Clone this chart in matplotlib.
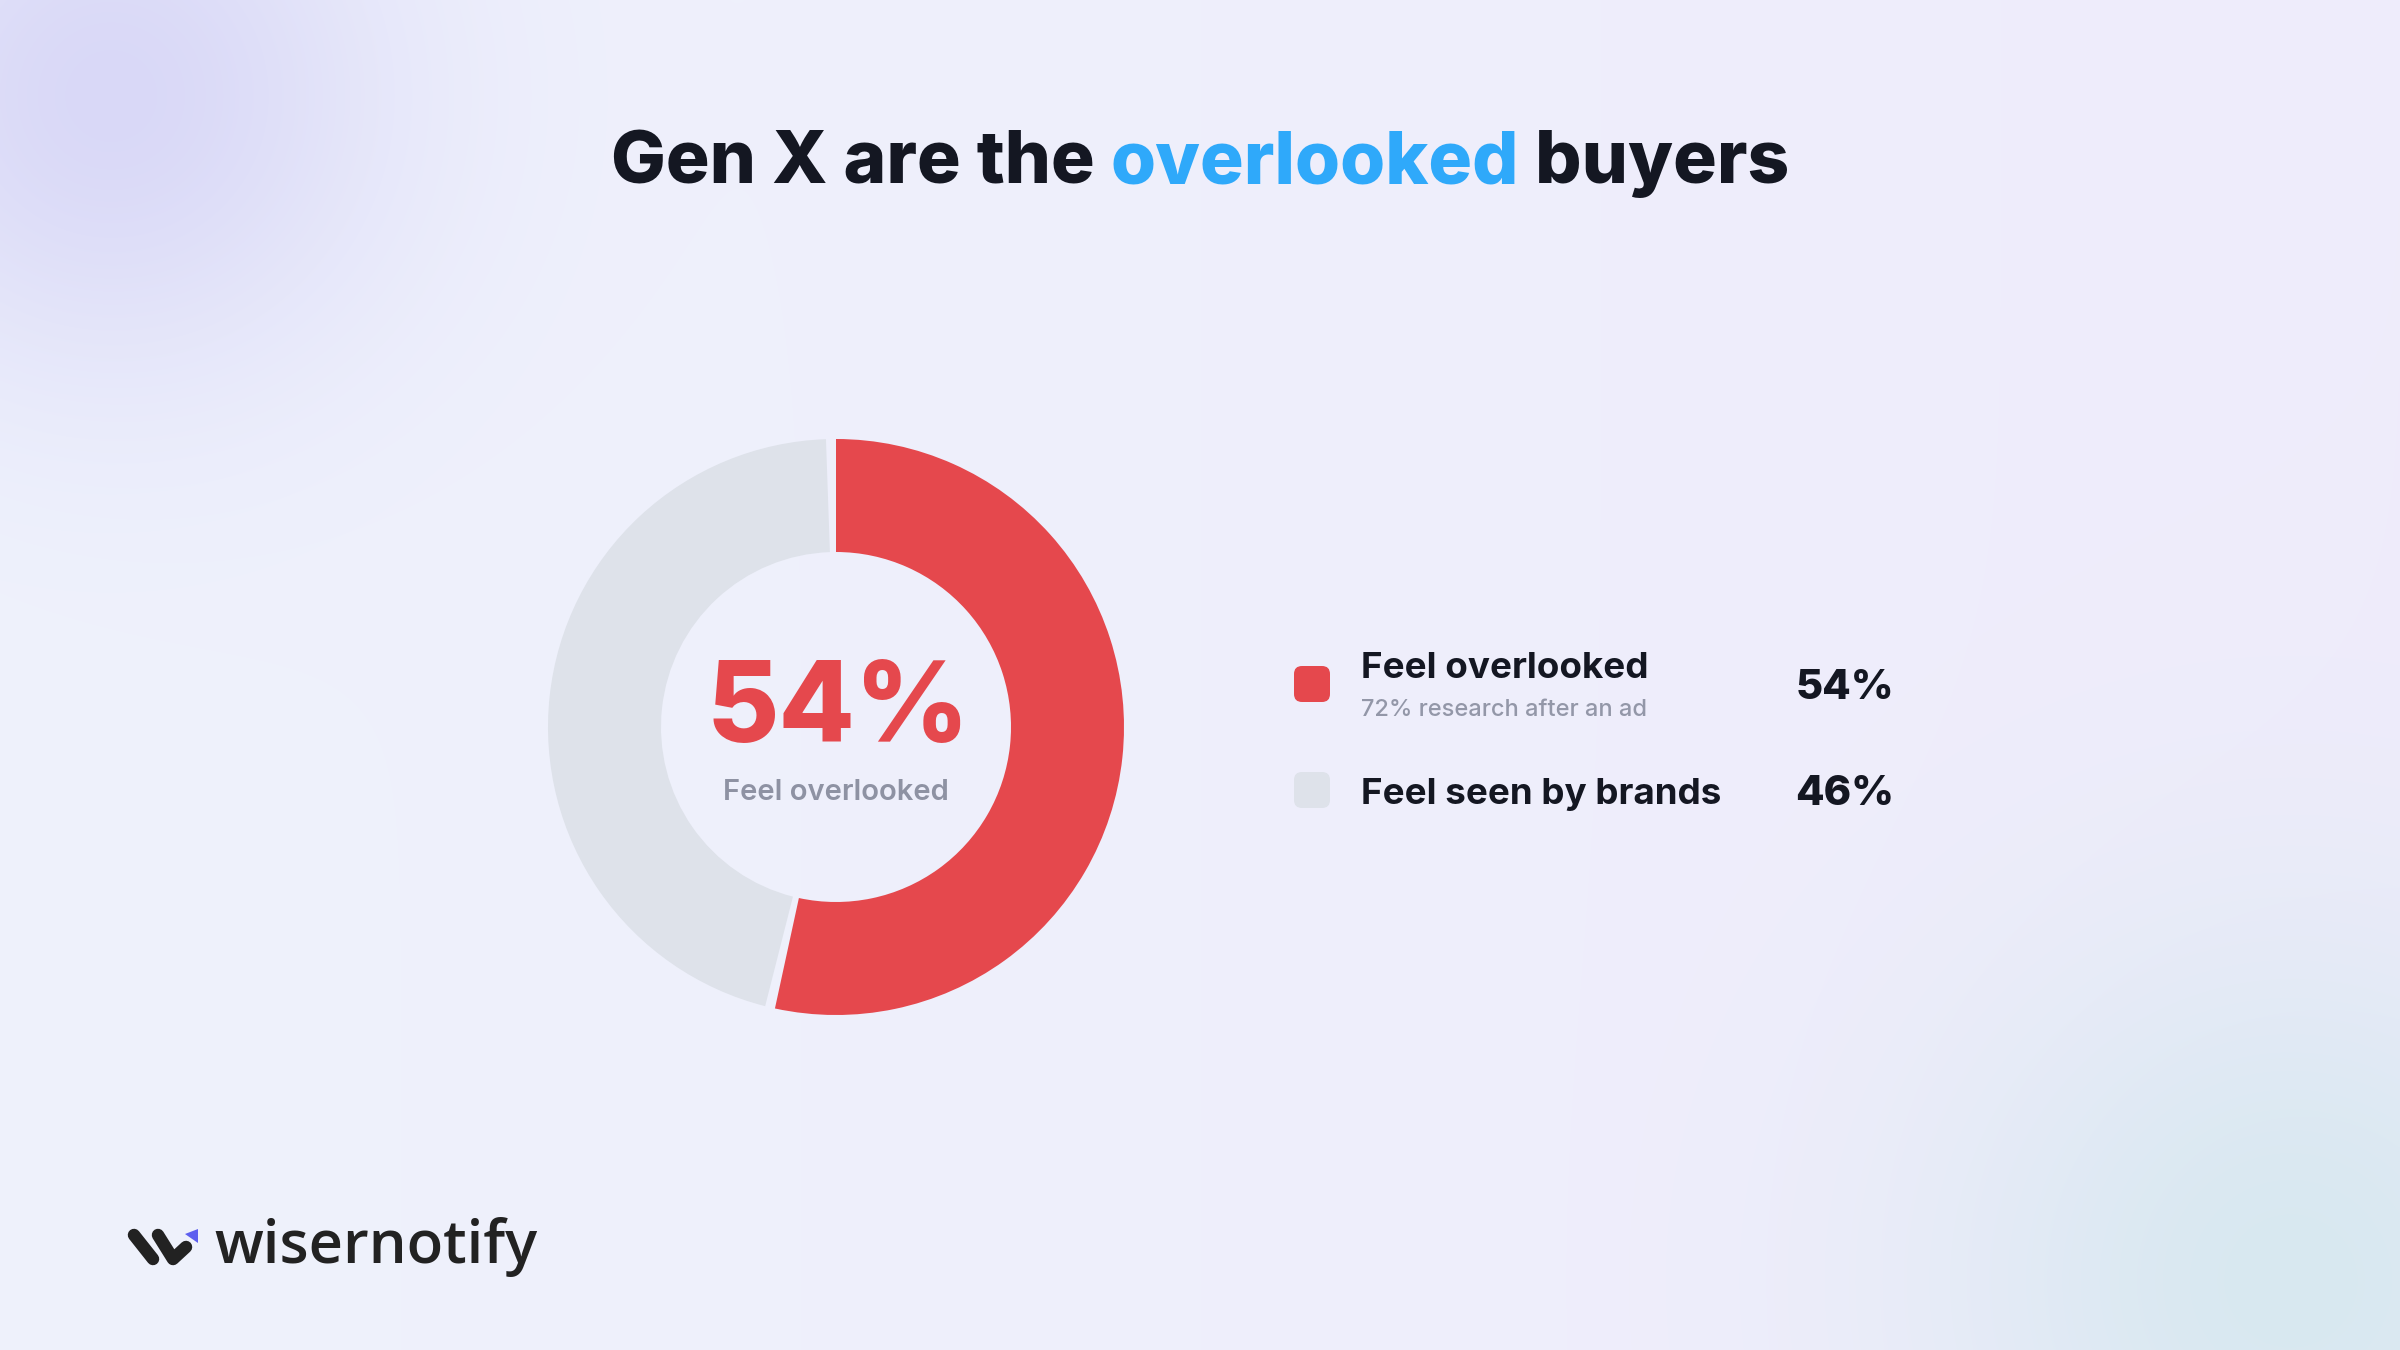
import matplotlib
matplotlib.use('Agg')
import matplotlib.pyplot as plt
import numpy as np
from matplotlib.patches import Wedge, FancyBboxPatch, Polygon
from matplotlib.lines import Line2D
from matplotlib import font_manager

"""DATA"""
Title = ['Gen X are the ', 'overlooked', ' buyers']
Labels = ['Feel overlooked', 'Feel seen by brands']
SubLabels = ['72% research after an ad', '']
Values = [54, 46]
CenterLabel = 'Feel overlooked'
Brand = 'wisernotify'

"""STYLE"""
Red = '#E5484D'
Gray = '#DEE2EA'
Dark = '#141722'
Blue = '#2FA9FA'
Muted = '#9397A8'
SliceColors = [Red, Gray]
Font = 'Inter'
names = {f.name for f in font_manager.fontManager.ttflist}
if Font not in names:
    Font = 'DejaVu Sans'

W, H = 2400, 1350
fig = plt.figure(figsize=(24, 13.5), dpi=100)
ax = fig.add_axes([0, 0, 1, 1])
ax.set_xlim(0, W)
ax.set_ylim(H, 0)
ax.axis('off')

# Background: soft base gradient with two glows
yy, xx = np.mgrid[0:H:2, 0:W:2]
left = np.array([239, 242, 252]) / 255
right = np.array([239, 236, 251]) / 255
t = (xx / W)[..., None]
bg = left * (1 - t) + right * t
glow1 = np.exp(-(((xx - 110) ** 2 + (yy - 95) ** 2) / (2 * 200.0 ** 2)))[..., None]
bg = bg * (1 - 0.95 * glow1) + np.array([216, 215, 247]) / 255 * 0.95 * glow1
glow2 = np.exp(-(((xx - 2290) ** 2 + (yy - 1280) ** 2) / (2 * 250.0 ** 2)))[..., None]
bg = bg * (1 - 0.95 * glow2) + np.array([215, 232, 240]) / 255 * 0.95 * glow2
ax.imshow(bg, extent=[0, W, H, 0], zorder=0, interpolation='bilinear')

fig.canvas.draw()
renderer = fig.canvas.get_renderer()

# Title in three colour pieces
pieces = []
for word, col in zip(Title, [Dark, Blue, Dark]):
    pieces.append(ax.text(0, 183, word, fontsize=52.5, fontweight='heavy', family=Font,
                          color=col, va='baseline', ha='left', zorder=5))
widths = [p.get_window_extent(renderer).width for p in pieces]
x = W / 2 - sum(widths) / 2
for p, w in zip(pieces, widths):
    p.set_x(x)
    x += w

# Donut with a small pad after each slice
cx, cy = 836, 727
r_out, r_in = 288, 175
pad = 2.0
total = 360 - pad * len(Values)
angle = 90.0
for v, col in zip(Values, SliceColors):
    span = v / sum(Values) * total
    ax.add_patch(Wedge((cx, cy), r_out, -angle, -(angle - span), width=r_out - r_in,
                       facecolor=col, edgecolor='none', zorder=2))
    angle -= span + pad

ax.text(cx + 2, 742, '%d%%' % Values[0], fontsize=80, fontweight='heavy', family=Font,
        color=Red, ha='center', va='baseline', zorder=5)
ax.text(cx, 800, CenterLabel, fontsize=21, fontweight='semibold', family=Font,
        color='#8E92A3', ha='center', va='baseline', zorder=5)

# Legend
rows_y = [684, 790]
for i, (lab, sub, v, col) in enumerate(zip(Labels, SubLabels, Values, SliceColors)):
    y = rows_y[i]
    ax.add_patch(FancyBboxPatch((1294 + 8, y - 18 + 8), 36 - 16, 36 - 16,
                                boxstyle='round,pad=8', facecolor=col, edgecolor='none', zorder=3))
    if sub:
        ax.text(1361, 678, lab, fontsize=26.5, fontweight='bold', family=Font,
                color=Dark, ha='left', va='baseline', zorder=5)
        ax.text(1361, 716, sub, fontsize=17, fontweight='medium', family=Font,
                color=Muted, ha='left', va='baseline', zorder=5)
    else:
        ax.text(1361, y + 14, lab, fontsize=26.5, fontweight='bold', family=Font,
                color=Dark, ha='left', va='baseline', zorder=5)
    ax.text(1894, y + 15, '%d%%' % v, fontsize=30, fontweight='heavy', family=Font,
            color=Dark, ha='right', va='baseline', zorder=5)

# Brand mark
lw = 9
ax.add_line(Line2D([134, 153], [1235, 1259], color='#222222', lw=lw, solid_capstyle='round', zorder=5))
ax.add_line(Line2D([158, 173, 186], [1235, 1259, 1247], color='#222222', lw=lw,
                   solid_capstyle='round', solid_joinstyle='round', zorder=5))
ax.add_patch(Polygon([[185, 1234], [198, 1229], [198, 1243]], closed=True,
                     facecolor='#5D5FEF', edgecolor='none', zorder=5))
ax.text(214, 1263, Brand, fontsize=43, fontweight='semibold', family='Open Sans',
        color='#222222', ha='left', va='baseline', zorder=5)

fig.savefig('out.png', dpi=100)
